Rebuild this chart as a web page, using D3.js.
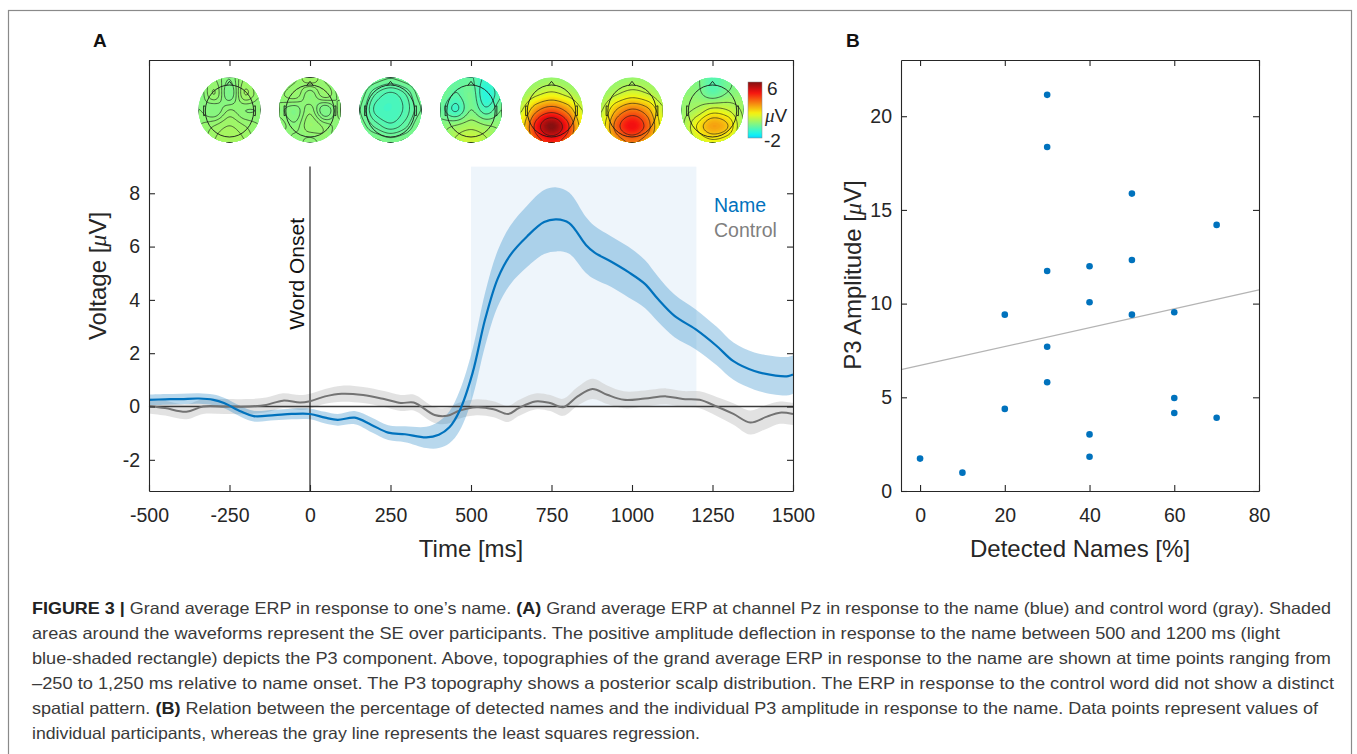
<!DOCTYPE html>
<html>
<head>
<meta charset="utf-8">
<script src="https://cdn.jsdelivr.net/npm/d3@7"></script>
<style>
body { margin: 0; background: #fff; }
svg text { font-family: "Liberation Sans", Arial, Helvetica, sans-serif; }
</style>
</head>
<body>
<div id="chart"></div>
<script>
// ---- panel A data: grand average ERP at Pz ----
const nameTime = [-500,-450,-400,-345,-300,-267,-214,-175,-110,-57,0,47,86,139,191,243,295,361,400,433,465,505,544,583,622,674,727,766,805,857,883,936,988,1040,1080,1132,1197,1263,1315,1380,1446,1485,1500];
const nameMean = [0.25,0.27,0.28,0.3,0.25,0.13,-0.19,-0.36,-0.32,-0.28,-0.28,-0.42,-0.5,-0.42,-0.69,-0.98,-1.04,-1.16,-1.06,-0.78,-0.15,1.26,3.28,4.8,5.68,6.38,6.92,7.02,6.88,6.06,5.78,5.43,5.05,4.6,4.04,3.4,2.9,2.27,1.7,1.33,1.16,1.14,1.2];
const nameSE   = [0.2,0.2,0.2,0.2,0.2,0.2,0.2,0.2,0.2,0.2,0.2,0.22,0.22,0.25,0.28,0.28,0.3,0.4,0.5,0.6,0.75,0.9,1.0,1.05,1.1,1.15,1.2,1.2,1.15,1.05,1.0,0.95,0.95,0.9,0.85,0.8,0.75,0.72,0.7,0.7,0.72,0.72,0.72];

const ctrlTime = [-500,-450,-384,-332,-267,-188,-136,-84,-31,0,47,99,165,230,282,322,387,426,465,517,570,616,648,700,746,786,831,877,923,975,1040,1106,1158,1210,1263,1315,1367,1419,1459,1500];
const ctrlMean = [0.02,-0.06,-0.2,0.0,0.0,0.0,0.06,0.22,0.15,0.2,0.38,0.48,0.43,0.28,0.13,0.15,-0.32,-0.35,-0.15,-0.03,-0.1,-0.28,-0.06,0.19,0.13,-0.03,0.38,0.66,0.44,0.25,0.3,0.38,0.28,0.25,0.0,-0.28,-0.6,-0.38,-0.23,-0.28];
const ctrlSE   = [0.28,0.28,0.28,0.28,0.28,0.28,0.28,0.28,0.28,0.28,0.28,0.3,0.3,0.3,0.3,0.3,0.3,0.3,0.3,0.3,0.3,0.3,0.3,0.3,0.3,0.32,0.35,0.38,0.35,0.32,0.3,0.3,0.3,0.32,0.36,0.4,0.45,0.45,0.42,0.42];

const timeTicks = [-500,-250,0,250,500,750,1000,1250,1500];
const voltTicks = [-2,0,2,4,6,8];
const p3Window = [500,1200];

// topographies (5x5, rows front -> back), values in microvolts
const topoTimes = [-250,0,250,500,750,1000,1250];
const topoMaps = [
  [[0.1,0.2,0.0,0.3,0.1],[0.0,0.3,-0.1,0.4,0.2],[0.1,0.0,0.2,0.1,0.1],[0.2,0.3,0.4,0.3,0.2],[0.2,0.4,0.5,0.4,0.2]],
  [[0.0,0.2,0.4,0.2,0.0],[0.2,0.3,0.1,0.3,0.1],[0.1,0.0,0.2,-0.1,0.2],[0.2,0.1,0.3,0.2,0.1],[0.0,0.2,0.1,0.2,0.0]],
  [[0.0,-0.1,-0.2,-0.1,0.0],[-0.1,-0.5,-0.7,-0.5,-0.1],[-0.2,-0.7,-0.8,-0.6,-0.2],[-0.1,-0.4,-0.6,-0.4,0.0],[0.0,0.0,-0.1,0.0,0.1]],
  [[0.0,-0.3,-0.4,-0.9,-0.3],[-0.1,-0.5,-0.2,-1.2,-0.5],[-0.3,-0.9,-0.1,-0.7,-0.1],[0.1,0.3,0.5,0.3,0.2],[0.3,0.7,1.0,0.7,0.3]],
  [[0.1,0.2,0.3,0.2,0.1],[0.3,0.9,1.3,0.9,0.4],[1.0,2.8,3.6,2.8,1.1],[1.6,4.4,6.0,4.4,1.7],[1.6,3.5,4.3,3.5,1.6]],
  [[0.1,0.2,0.3,0.3,0.2],[0.3,0.8,1.2,0.9,0.4],[0.8,2.4,3.2,2.6,1.0],[1.2,3.5,4.6,3.5,1.3],[1.1,2.6,3.2,2.6,1.2]],
  [[0.1,0.0,-0.6,-0.2,0.1],[0.2,0.1,-0.4,0.0,0.2],[0.3,0.6,1.2,1.0,0.4],[0.4,1.6,2.6,2.1,0.5],[0.4,1.0,1.4,1.1,0.4]]
];
const cbarTicks = [-2,6];

// ---- panel B data: detected names vs P3 amplitude ----
const detected = [0,10,20,20,30,30,30,30,30,40,40,40,40,50,50,50,60,60,60,70,70];
const p3amp    = [1.73,0.98,9.41,4.38,21.14,18.36,11.74,7.70,5.80,11.99,10.07,3.02,1.83,15.87,12.33,9.41,9.54,4.96,4.16,14.2,3.91];
const pctTicks = [0,20,40,60,80];
const ampTicks = [0,5,10,15,20];

const captionLines = [
  [["FIGURE 3 | ",1],["Grand average ERP in response to one’s name. ",0],["(A)",1],[" Grand average ERP at channel Pz in response to the name (blue) and control word (gray). Shaded",0]],
  [["areas around the waveforms represent the SE over participants. The positive amplitude deflection in response to the name between 500 and 1200 ms (light",0]],
  [["blue-shaded rectangle) depicts the P3 component. Above, topographies of the grand average ERP in response to the name are shown at time points ranging from",0]],
  [["–250 to 1,250 ms relative to name onset. The P3 topography shows a posterior scalp distribution. The ERP in response to the control word did not show a distinct",0]],
  [["spatial pattern. ",0],["(B)",1],[" Relation between the percentage of detected names and the individual P3 amplitude in response to the name. Data points represent values of",0]],
  [["individual participants, whereas the gray line represents the least squares regression.",0]]
];
const captionEnds = [1331,1280,1331,1334,1318,700];

const W = 1357, H = 754;
const blue = "#0072bd", grayLine = "#737373", axisCol = "#262626";

const svg = d3.select("#chart").append("svg")
    .attr("width", W).attr("height", H);

// outer figure frame
svg.append("rect")
    .attr("x", 8.5).attr("y", 10.5)
    .attr("width", 1343).attr("height", 800)
    .attr("fill", "none").attr("stroke", "#8a8a8a").attr("stroke-width", 1.2);

function jet(v) {
    const t = (v + 6) / 12;
    const c = x => Math.max(0, Math.min(1, x));
    const col = d3.rgb(255 * c(1.5 - Math.abs(4*t - 3)), 255 * c(1.5 - Math.abs(4*t - 2)), 255 * c(1.5 - Math.abs(4*t - 1)));
    return d3.interpolateRgb(col, "#a0a0a0")(0.1);
}

function styleAxis(g, size) {
    g.select(".domain").attr("stroke", axisCol).attr("stroke-width", 1.1);
    g.selectAll(".tick line").attr("stroke", axisCol).attr("stroke-width", 1.1);
    g.selectAll(".tick text").attr("fill", axisCol).style("font-size", size + "px")
        .style("font-family", '"Liberation Sans", Arial, sans-serif');
}

function boxAxes(g, x, y, xt, yt) {
    const [x0, x1] = x.range(), [y0, y1] = y.range();
    const fmt = d => String(d);
    g.append("g").attr("transform", "translate(0," + y0 + ")")
        .call(d3.axisBottom(x).tickValues(xt).tickFormat(fmt).tickSize(-6).tickSizeOuter(0).tickPadding(17))
        .call(s => styleAxis(s, 19.5));
    g.append("g").attr("transform", "translate(0," + y1 + ")")
        .call(d3.axisTop(x).tickValues(xt).tickSize(-6).tickSizeOuter(0).tickFormat(""))
        .call(s => styleAxis(s, 19.5));
    g.append("g").attr("transform", "translate(" + x0 + ",0)")
        .call(d3.axisLeft(y).tickValues(yt).tickFormat(fmt).tickSize(-6).tickSizeOuter(0).tickPadding(9))
        .call(s => styleAxis(s, 19.5));
    g.append("g").attr("transform", "translate(" + x1 + ",0)")
        .call(d3.axisRight(y).tickValues(yt).tickSize(-6).tickSizeOuter(0).tickFormat(""))
        .call(s => styleAxis(s, 19.5));
}

// ================= PANEL A =================
const xA = d3.scaleLinear().domain([-500, 1500]).range([149, 793]);
const yA = d3.scaleLinear().domain([-3.17, 13]).range([491, 60]);
const gA = svg.append("g");

gA.append("rect")
    .attr("x", xA(p3Window[0])).attr("y", yA(9))
    .attr("width", xA(p3Window[1]) - xA(p3Window[0]))
    .attr("height", yA(0) - yA(9))
    .attr("fill", "#eef5fb");

const nameData = nameTime.map((t, i) => ({t: t, m: nameMean[i], se: nameSE[i]}));
const ctrlData = ctrlTime.map((t, i) => ({t: t, m: ctrlMean[i], se: ctrlSE[i]}));

const band = d3.area()
    .x(d => xA(d.t)).y0(d => yA(d.m - d.se)).y1(d => yA(d.m + d.se))
    .curve(d3.curveCatmullRom.alpha(0.5));
const mid = d3.line()
    .x(d => xA(d.t)).y(d => yA(d.m))
    .curve(d3.curveCatmullRom.alpha(0.5));

gA.append("path").attr("d", band(ctrlData)).attr("fill", "#cfcfcf").attr("fill-opacity", 0.6);
gA.append("path").attr("d", band(nameData)).attr("fill", blue).attr("fill-opacity", 0.28);

// zero line and word onset
gA.append("line")
    .attr("x1", xA(-500)).attr("x2", xA(1500))
    .attr("y1", yA(0)).attr("y2", yA(0))
    .attr("stroke", "#3a3a3a").attr("stroke-width", 1.4);
gA.append("line")
    .attr("x1", xA(0)).attr("x2", xA(0))
    .attr("y1", yA(9)).attr("y2", yA(-3.17))
    .attr("stroke", "#111").attr("stroke-width", 1.1);
gA.append("text")
    .attr("transform", "translate(" + (xA(0) - 6) + "," + 218 + ") rotate(-90)")
    .attr("text-anchor", "end")
    .style("font-size", "21px").attr("fill", "#111")
    .text("Word Onset");

gA.append("path").attr("d", mid(ctrlData)).attr("fill", "none")
    .attr("stroke", grayLine).attr("stroke-width", 2);
gA.append("path").attr("d", mid(nameData)).attr("fill", "none")
    .attr("stroke", blue).attr("stroke-width", 2.2);

// legend
gA.append("text").attr("x", 714).attr("y", 212).attr("fill", blue)
    .style("font-size", "19.5px").text("Name");
gA.append("text").attr("x", 714).attr("y", 237).attr("fill", "#7f7f7f")
    .style("font-size", "19.5px").text("Control");

// topographies
function cr(p0, p1, p2, p3, t) {
    return 0.5 * (2*p1 + (-p0 + p2)*t + (2*p0 - 5*p1 + 4*p2 - p3)*t*t + (-p0 + 3*p1 - 3*p2 + p3)*t*t*t);
}
function upsample(grid, n) {
    const g = grid.length;
    const at = (r, c) => grid[Math.max(0, Math.min(g-1, r))][Math.max(0, Math.min(g-1, c))];
    const out = new Array(n*n);
    for (let j = 0; j < n; j++) {
        const gy = j / (n-1) * (g-1), y0 = Math.min(Math.floor(gy), g-2), fy = gy - y0;
        for (let i = 0; i < n; i++) {
            const gx = i / (n-1) * (g-1), x0 = Math.min(Math.floor(gx), g-2), fx = gx - x0;
            const rows = [-1, 0, 1, 2].map(k => cr(at(y0+k, x0-1), at(y0+k, x0), at(y0+k, x0+1), at(y0+k, x0+2), fx));
            out[j*n + i] = cr(rows[0], rows[1], rows[2], rows[3], fy);
        }
    }
    return out;
}

const N = 48, rx = 31, ry = 32.5, topoY = 110;
const defs = svg.append("defs");
const geo = d3.geoPath();

topoMaps.forEach((grid, k) => {
    const cx = xA(topoTimes[k]);
    defs.append("clipPath").attr("id", "topo" + k)
        .append("ellipse").attr("cx", cx).attr("cy", topoY).attr("rx", rx).attr("ry", ry);
    const vals = upsample(grid, N);
    const lo = d3.min(vals), hi = d3.max(vals);
    const outer = gA.append("g").attr("clip-path", "url(#topo" + k + ")");
    outer.append("ellipse").attr("cx", cx).attr("cy", topoY).attr("rx", rx).attr("ry", ry)
        .attr("fill", jet(lo));
    const inner = outer.append("g")
        .attr("transform", "translate(" + (cx - rx) + "," + (topoY - ry) + ") scale(" + (2*rx/N) + "," + (2*ry/N) + ")");
    const step = 0.1;
    const fills = d3.contours().size([N, N]).thresholds(d3.range(Math.floor(lo*10)/10, hi, step))(vals);
    inner.selectAll("path.band").data(fills).join("path")
        .attr("class", "band").attr("d", geo)
        .attr("fill", d => jet(d.value + step/2));
    const levels = d3.range(1, 6).map(i => lo + i * (hi - lo) / 6);
    const lines = d3.contours().size([N, N]).thresholds(levels)(vals);
    inner.selectAll("path.iso").data(lines).join("path")
        .attr("class", "iso").attr("d", geo)
        .attr("fill", "none").attr("stroke", "#1a1a1a").attr("stroke-width", 0.8)
        .attr("vector-effect", "non-scaling-stroke").attr("stroke-opacity", 0.8);
    // head outline, nose, ears
    const hr = 0.78 * rx, hry = 0.8 * ry, hy = topoY + 1;
    const head = outer.append("g").attr("fill", "none").attr("stroke", "#1a1a1a").attr("stroke-width", 0.9);
    head.append("ellipse").attr("cx", cx).attr("cy", hy).attr("rx", hr).attr("ry", hry);
    head.append("path").attr("d",
        "M" + (cx - 0.13*hr) + "," + (hy - 0.985*hry) + "L" + cx + "," + (hy - 1.14*hry) + "L" + (cx + 0.13*hr) + "," + (hy - 0.985*hry));
    [-1, 1].forEach(s => {
        head.append("path").attr("d",
            "M" + (cx + s*hr) + "," + (hy - 0.18*hry) + "l" + (s*0.07*hr) + "," + (-0.02*hry) +
            "l0," + (0.38*hry) + "l" + (-s*0.07*hr) + "," + (-0.02*hry));
    });
});

// colorbar
const cbY = d3.scaleLinear().domain(cbarTicks).range([138, 82]);
const grad = defs.append("linearGradient").attr("id", "cbar")
    .attr("x1", 0).attr("x2", 0).attr("y1", 1).attr("y2", 0);
d3.range(0, 1.0001, 0.05).forEach(f => {
    grad.append("stop").attr("offset", f).attr("stop-color", jet(cbarTicks[0] + f * (cbarTicks[1] - cbarTicks[0])));
});
gA.append("rect").attr("x", 748).attr("y", cbY(6)).attr("width", 14)
    .attr("height", cbY(-2) - cbY(6)).attr("fill", "url(#cbar)")
    .attr("stroke", "#888").attr("stroke-width", 0.5);
gA.append("text").attr("x", 767).attr("y", cbY(6) + 13).style("font-size", "19px").attr("fill", axisCol).text("6");
const mu = gA.append("text").attr("x", 765).attr("y", 122).style("font-size", "19px").attr("fill", axisCol);
mu.append("tspan").style("font-style", "italic").style("font-family", '"Liberation Serif", serif').text("μ");
mu.append("tspan").text("V");
gA.append("text").attr("x", 764).attr("y", cbY(-2) + 9).style("font-size", "19px").attr("fill", axisCol).text("-2");

boxAxes(gA, xA, yA, timeTicks, voltTicks);

gA.append("text").attr("x", (xA(-500) + xA(1500)) / 2).attr("y", 557)
    .attr("text-anchor", "middle").style("font-size", "24px").attr("fill", axisCol)
    .text("Time [ms]");
const yLabA = gA.append("text")
    .attr("transform", "translate(106,276) rotate(-90)")
    .attr("text-anchor", "middle").style("font-size", "24px").attr("fill", axisCol);
yLabA.append("tspan").text("Voltage [");
yLabA.append("tspan").style("font-style", "italic").style("font-family", '"Liberation Serif", serif').text("μ");
yLabA.append("tspan").text("V]");

svg.append("text").attr("x", 93).attr("y", 47).style("font-size", "19px")
    .style("font-weight", "bold").attr("fill", "#111").text("A");

// ================= PANEL B =================
const xB = d3.scaleLinear().domain([-4.5, 80]).range([901, 1259]);
const yB = d3.scaleLinear().domain([0, 23]).range([491, 60]);
const gB = svg.append("g");

const mx = d3.mean(detected), my = d3.mean(p3amp);
const slope = d3.sum(detected, (x, i) => (x - mx) * (p3amp[i] - my)) / d3.sum(detected, x => (x - mx) * (x - mx));
const icpt = my - slope * mx;
const [dx0, dx1] = xB.domain();
gB.append("line")
    .attr("x1", xB(dx0)).attr("y1", yB(icpt + slope * dx0))
    .attr("x2", xB(dx1)).attr("y2", yB(icpt + slope * dx1))
    .attr("stroke", "#b4b4b4").attr("stroke-width", 1.3);

gB.selectAll("circle").data(detected).join("circle")
    .attr("cx", d => xB(d)).attr("cy", (d, i) => yB(p3amp[i]))
    .attr("r", 3.3).attr("fill", blue);

boxAxes(gB, xB, yB, pctTicks, ampTicks);

gB.append("text").attr("x", 1080).attr("y", 557)
    .attr("text-anchor", "middle").style("font-size", "24px").attr("fill", axisCol)
    .text("Detected Names [%]");
const yLabB = gB.append("text")
    .attr("transform", "translate(861,275) rotate(-90)")
    .attr("text-anchor", "middle").style("font-size", "24px").attr("fill", axisCol);
yLabB.append("tspan").text("P3 Amplitude [");
yLabB.append("tspan").style("font-style", "italic").style("font-family", '"Liberation Serif", serif').text("μ");
yLabB.append("tspan").text("V]");

svg.append("text").attr("x", 846).attr("y", 47).style("font-size", "19px")
    .style("font-weight", "bold").attr("fill", "#111").text("B");

// ================= CAPTION =================
const capX = 32;
captionLines.forEach((segs, i) => {
    const t = svg.append("text").attr("x", capX).attr("y", 614 + i * 25)
        .style("font-size", "16.5px").attr("fill", "#3a3a3a");
    segs.forEach(s => {
        t.append("tspan").style("font-weight", s[1] ? "bold" : "normal")
            .attr("fill", s[1] ? "#222" : "#3a3a3a").text(s[0]);
    });
    t.attr("textLength", captionEnds[i] - capX).attr("lengthAdjust", "spacingAndGlyphs");
});
</script>
</body>
</html>
